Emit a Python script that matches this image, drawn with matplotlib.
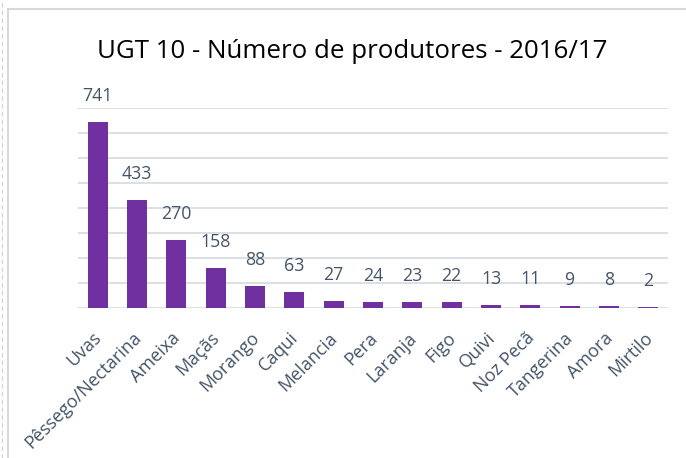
import matplotlib
matplotlib.use("Agg")
import matplotlib.pyplot as plt
from matplotlib.lines import Line2D
import matplotlib.transforms as mtrans

categories = ["Uvas", "Pêssego/Nectarina", "Ameixa", "Maçãs", "Morango", "Caqui",
              "Melancia", "Pera", "Laranja", "Figo", "Quivi", "Noz Pecã",
              "Tangerina", "Amora", "Mirtilo"]
values = [741, 433, 270, 158, 88, 63, 27, 24, 23, 22, 13, 11, 9, 8, 2]
title = "UGT 10 - Número de produtores - 2016/17"

plt.rcParams['font.family'] = ['Open Sans', 'DejaVu Sans']

W, H = 686, 458
fig = plt.figure(figsize=(W / 100, H / 100), dpi=100)
ax = fig.add_axes([78 / W, 1 - 308 / H, (668 - 78) / W, (308 - 107.7) / H])

bar_color = "#7030A0"
text_color = "#44546A"
grid_color = "#D9DDE3"

x = list(range(len(categories)))
ax.bar(x, values, width=0.51, color=bar_color, zorder=3)
ax.set_xlim(-0.5, len(categories) - 0.5)
ax.set_ylim(0, 800)
ax.set_yticks(range(0, 801, 100))
ax.yaxis.grid(True, color=grid_color, linewidth=1.3, zorder=0)
ax.tick_params(axis='y', left=False, labelleft=False)
ax.tick_params(axis='x', length=0, pad=2)
for s in ax.spines.values():
    s.set_visible(False)

ax.set_xticks(x)
ax.set_xticklabels(categories, rotation=45, ha='right', rotation_mode='anchor',
                   fontsize=13, color=text_color)
for lbl in ax.get_xticklabels():
    lbl.set_transform(lbl.get_transform() + mtrans.ScaledTranslation(-5 / 100, -18 / 100, fig.dpi_scale_trans))

for xi, v in zip(x, values):
    ax.annotate(str(v), (xi, v), xytext=(0, 17 * 0.72), textcoords='offset points',
                ha='center', va='bottom', fontsize=12.8, color=text_color)

fig.text(352 / W, 1 - 57.5 / H, title, ha='center', va='baseline', fontsize=18.6, color='black')

# outer frame lines
fig.add_artist(Line2D([8 / W, 8 / W], [0, 1 - 9 / H], transform=fig.transFigure, color='#D9D9D9', lw=1.5))
fig.add_artist(Line2D([8 / W, 1], [1 - 9 / H, 1 - 9 / H], transform=fig.transFigure, color='#D9D9D9', lw=1.5))
fig.add_artist(Line2D([1.5 / W, 1.5 / W], [0, 1], transform=fig.transFigure, color='#D0D0D0', lw=0.8, ls=(0, (4, 3))))

fig.savefig("out.png", dpi=100)
